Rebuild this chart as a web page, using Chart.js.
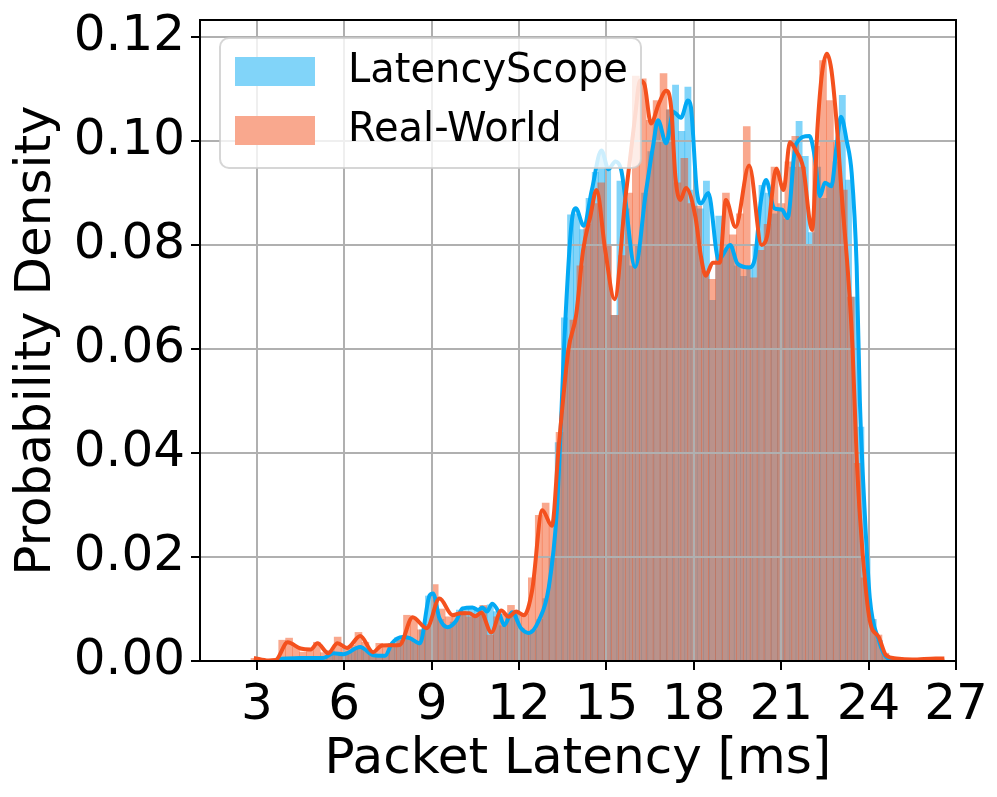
<!DOCTYPE html>
<html><head><meta charset="utf-8">
<script src="https://cdn.jsdelivr.net/npm/chart.js@4.4.1/dist/chart.umd.min.js"></script>
<style>html,body{margin:0;padding:0;background:#fff;}canvas{display:block;}</style>
</head><body>
<canvas id="c" width="997" height="797"></canvas>
<script>
// ---- data ----
const xTicks = [3, 6, 9, 12, 15, 18, 21, 24, 27];
const yTicks = [0, 0.02, 0.04, 0.06, 0.08, 0.10, 0.12];
const seriesNames = ['LatencyScope', 'Real-World'];
const xTitle = 'Packet Latency [ms]';
const yTitle = 'Probability Density';

// LatencyScope histogram (bin edges start + width, density per bin)
const scopeBinStart = 3.7;
const scopeBinWidth = 0.212;
const scopeHist = [
  .0004,.0005,.0006,.0006,.0005,.0006,.0007,.0006,.0012,.0016,
  .0013,.0018,.0026,.0028,.0018,.0011,.0010,.0012,.0034,.0045,
  .0047,.0044,.0035,.0060,.0125,.0118,.0080,.0065,.0075,.0098,
  .0100,.0105,.0097,.0104,.0108,.0095,.0068,.0088,.0092,.0063,
  .0055,.0060,.0080,.0120,.0200,.0420,.0660,.0858,.0860,.0830,
  .0890,.0940,.0976,.0950,.0665,.0923,.0870,.0760,.0800,.0900,
  .0980,.1040,.1000,.1060,.1108,.1019,.1104,.0906,.0870,.0923,
  .0694,.0856,.0790,.0800,.0760,.0740,.0760,.0800,.0915,.0900,
  .0860,.0870,.0850,.0950,.1038,.0971,.0824,.0950,.0890,.0920,
  .0960,.1088,.0925,.0700,.0450,.0200,.0080,.0040,.0010,.0003
];

// Real-World histogram
const realBinStart = 2.8;
const realBinWidth = 0.238;
const realHist = [
  .0005,.0000,.0000,.0004,.0040,.0044,.0027,.0017,.0020,.0036,
  .0016,.0020,.0046,.0025,.0030,.0055,.0036,.0015,.0034,.0030,
  .0028,.0040,.0088,.0080,.0060,.0070,.0147,.0100,.0085,.0092,
  .0096,.0085,.0090,.0107,.0050,.0085,.0090,.0107,.0092,.0090,
  .0160,.0280,.0304,.0260,.0440,.0600,.0656,.0760,.0840,.0880,
  .0920,.0800,.0665,.0780,.0900,.1125,.1120,.1040,.1078,.1130,
  .1060,.0920,.0967,.0880,.0875,.0750,.0734,.0780,.0900,.0820,
  .0860,.1028,.0737,.0790,.0840,.0950,.0880,.0960,.1009,.0950,
  .0800,.0990,.1155,.1078,.1000,.0906,.0700,.0380,.0160,.0080,
  .0050,.0015,.0005,.0003,.0002,.0001,.0001,.0002,.0003,.0004
];

// Kernel density curves
const scopeKdeX = [3.75,4.5,5.28,5.63,5.97,6.55,7.0,7.4,7.64,8.0,8.25,8.6,8.93,9.05,9.27,9.55,9.85,10.06,10.4,10.6,10.74,10.9,11.08,11.32,11.49,11.76,12.07,12.34,12.68,13.02,13.3,13.6,13.8,13.95,14.22,14.5,14.83,15.07,15.31,15.51,15.99,16.35,16.6,16.77,17.05,17.3,17.56,17.8,17.9,18.1,18.24,18.5,18.85,19.25,19.5,19.9,20.1,20.29,20.48,20.76,21.03,21.22,21.5,21.97,22.15,22.33,22.5,22.72,22.9,23.05,23.25,23.42,23.59,23.7,23.87,24.04,24.35,24.6,24.9];
const scopeKdeY = [.0004,.0006,.0006,.0015,.0013,.0027,.0011,.0010,.0034,.0046,.0044,.0034,.0126,.0130,.0082,.0065,.0078,.0101,.0103,.0098,.0103,.0095,.0110,.0092,.0069,.0094,.0063,.0054,.0078,.0141,.0290,.0665,.0840,.0871,.0837,.0906,.0982,.0946,.0961,.0944,.0758,.0900,.0990,.1040,.0996,.1056,.1045,.1078,.1066,.0906,.0880,.0900,.0772,.0800,.0764,.0757,.0775,.0880,.0925,.0871,.0868,.0852,.0993,.1010,.0970,.0894,.0920,.0913,.0990,.1047,.1000,.0938,.0760,.0500,.0283,.0122,.0040,.0008,.0002];

const realKdeX = [2.9,3.4,3.65,4.06,4.5,4.85,5.08,5.45,5.77,6.1,6.55,6.99,7.3,7.9,8.35,8.83,9.27,9.72,10.0,10.3,10.5,10.7,11.05,11.39,11.65,11.9,12.17,12.45,12.8,13.13,13.36,13.7,13.96,14.2,14.45,14.66,14.96,15.28,15.65,15.99,16.15,16.3,16.53,16.8,17.05,17.22,17.37,17.54,17.73,18.05,18.24,18.41,18.65,18.89,19.1,19.43,19.9,20.33,20.52,20.83,21.08,21.3,21.5,21.75,22.06,22.25,22.4,22.57,22.72,22.88,23.1,23.3,23.45,23.6,23.78,24.04,24.35,24.6,24.95,25.5,26.3,26.6];
const realKdeY = [.0006,.0001,.0002,.0036,.0024,.0022,.0034,.0015,.0034,.0025,.0048,.0017,.0030,.0031,.0084,.0063,.0120,.0088,.0092,.0092,.0086,.0093,.0055,.0097,.0085,.0095,.0088,.0136,.0290,.0260,.0410,.0600,.0665,.0790,.0856,.0906,.0790,.0696,.0890,.1050,.1116,.1110,.1034,.1072,.1097,.1066,.0930,.0887,.0910,.0856,.0780,.0741,.0766,.0766,.0887,.0835,.0953,.0800,.0818,.0947,.0906,.0998,.0982,.0950,.0829,.1030,.1130,.1168,.1138,.1050,.0880,.0740,.0600,.0378,.0218,.0078,.0046,.0011,.0005,.0003,.0005,.0005];

// ---- styles ----
const FONT = 'DejaVu Sans';
const blueLine = '#03A9F4', orangeLine = '#F4511E';
const blueFill = 'rgba(3,169,244,0.5)', orangeFill = 'rgba(244,81,30,0.5)';
const gridColor = '#b0b0b0';

function align(p){ return Math.round(p - 1) + 1; }

const gridOverBars = {
  id: 'gridOverBars',
  afterDatasetDraw(chart, args) {
    if (args.index !== 1) return;
    const ctx = chart.ctx, a = chart.chartArea;
    ctx.save();
    ctx.beginPath(); ctx.rect(a.left, a.top, a.right - a.left, a.bottom - a.top); ctx.clip();
    ctx.strokeStyle = gridColor; ctx.lineWidth = 2;
    ctx.beginPath();
    xTicks.forEach(v => { const p = align(chart.scales.x.getPixelForValue(v)); ctx.moveTo(p, a.top); ctx.lineTo(p, a.bottom); });
    yTicks.forEach(v => { const p = align(chart.scales.y.getPixelForValue(v)); ctx.moveTo(a.left, p); ctx.lineTo(a.right, p); });
    ctx.stroke();
    ctx.restore();
  }
};

const frameAndLegend = {
  id: 'frameAndLegend',
  afterDraw(chart) {
    const ctx = chart.ctx, a = chart.chartArea;
    ctx.save();
    ctx.strokeStyle = '#000'; ctx.lineWidth = 2;
    ctx.strokeRect(a.left, a.top, a.right - a.left, a.bottom - a.top);
    // legend
    const lx = a.left + 20, ly = a.top + 18, lw = 421, lh = 130, r = 9;
    ctx.beginPath();
    ctx.moveTo(lx + r, ly);
    ctx.arcTo(lx + lw, ly, lx + lw, ly + lh, r);
    ctx.arcTo(lx + lw, ly + lh, lx, ly + lh, r);
    ctx.arcTo(lx, ly + lh, lx, ly, r);
    ctx.arcTo(lx, ly, lx + lw, ly, r);
    ctx.closePath();
    ctx.fillStyle = 'rgba(255,255,255,0.8)'; ctx.fill();
    ctx.strokeStyle = 'rgba(204,204,204,0.8)'; ctx.lineWidth = 2; ctx.stroke();
    const ds = chart.data.datasets;
    [0, 1].forEach((i, k) => {
      const y0 = ly + 19 + k * 59;
      ctx.fillStyle = 'rgba(255,255,255,1)';
      ctx.fillRect(lx + 15, y0, 80, 29);
      ctx.fillStyle = ds[i].backgroundColor;
      ctx.fillRect(lx + 15, y0, 80, 29);
      ctx.fillStyle = '#000';
      ctx.font = '40px "' + FONT + '"';
      ctx.textBaseline = 'middle';
      ctx.textAlign = 'left';
      ctx.fillText(ds[i].label, lx + 128, y0 + 15);
    });
    ctx.restore();
  }
};

Chart.defaults.font.family = FONT;
const ctx = document.getElementById('c').getContext('2d');
new Chart(ctx, {
  type: 'bar',
  data: {
    datasets: [
      { type: 'bar', label: seriesNames[0], xAxisID: 'x2', yAxisID: 'y',
        data: scopeHist.map((v, i) => ({ x: scopeBinStart + (i + 0.5) * scopeBinWidth, y: v })),
        backgroundColor: blueFill, borderWidth: 0, barPercentage: 1, categoryPercentage: 1, grouped: false, order: 4 },
      { type: 'bar', label: seriesNames[1], xAxisID: 'x', yAxisID: 'y',
        data: realHist.map((v, i) => ({ x: realBinStart + (i + 0.5) * realBinWidth, y: v })),
        backgroundColor: orangeFill, borderWidth: 0, barPercentage: 1, categoryPercentage: 1, grouped: false, order: 3 },
      { type: 'line', label: seriesNames[0] + ' KDE', xAxisID: 'x', yAxisID: 'y',
        data: scopeKdeX.map((x, i) => ({ x, y: scopeKdeY[i] })),
        borderColor: blueLine, borderWidth: 4, pointRadius: 0, fill: false, cubicInterpolationMode: 'monotone', order: 2 },
      { type: 'line', label: seriesNames[1] + ' KDE', xAxisID: 'x', yAxisID: 'y',
        data: realKdeX.map((x, i) => ({ x, y: realKdeY[i] })),
        borderColor: orangeLine, borderWidth: 4, pointRadius: 0, fill: false, cubicInterpolationMode: 'monotone', order: 1 }
    ]
  },
  options: {
    responsive: false, animation: false, devicePixelRatio: 1,
    layout: { padding: { top: 20, right: 41, left: 0, bottom: 0 } },
    plugins: { legend: { display: false }, tooltip: { enabled: false } },
    scales: {
      x: {
        type: 'linear', position: 'bottom', min: 1.05, max: 27.0, offset: false,
        afterBuildTicks: s => { s.ticks = xTicks.map(v => ({ value: v })); },
        afterFit: s => { s.height = 136; s.paddingLeft = 0; s.paddingRight = 0; },
        grid: { offset: false, color: gridColor, lineWidth: 2, tickColor: '#000', tickWidth: 2, tickLength: 9 },
        border: { display: false },
        ticks: { font: { size: 50 }, color: '#000', padding: 6, maxRotation: 0, autoSkip: false, callback: v => String(v) },
        title: { display: true, text: xTitle, font: { size: 50 }, color: '#000', padding: { top: 0, bottom: 7 } }
      },
      x2: { type: 'linear', display: false, min: 1.05, max: 27.0, offset: false, grid: { offset: false } },
      y: {
        type: 'linear', position: 'left', min: 0, max: 0.1233,
        afterBuildTicks: s => { s.ticks = yTicks.map(v => ({ value: v })); },
        afterFit: s => { s.width = 200; s.paddingTop = 0; s.paddingBottom = 0; },
        grid: { color: gridColor, lineWidth: 2, tickColor: '#000', tickWidth: 2, tickLength: 9 },
        border: { display: false },
        ticks: { font: { size: 50 }, color: '#000', padding: 6, callback: v => v.toFixed(2) },
        title: { display: true, text: yTitle, font: { size: 50 }, color: '#000', padding: { top: 7, bottom: 0 } }
      }
    }
  },
  plugins: [gridOverBars, frameAndLegend]
});
</script>
</body></html>
